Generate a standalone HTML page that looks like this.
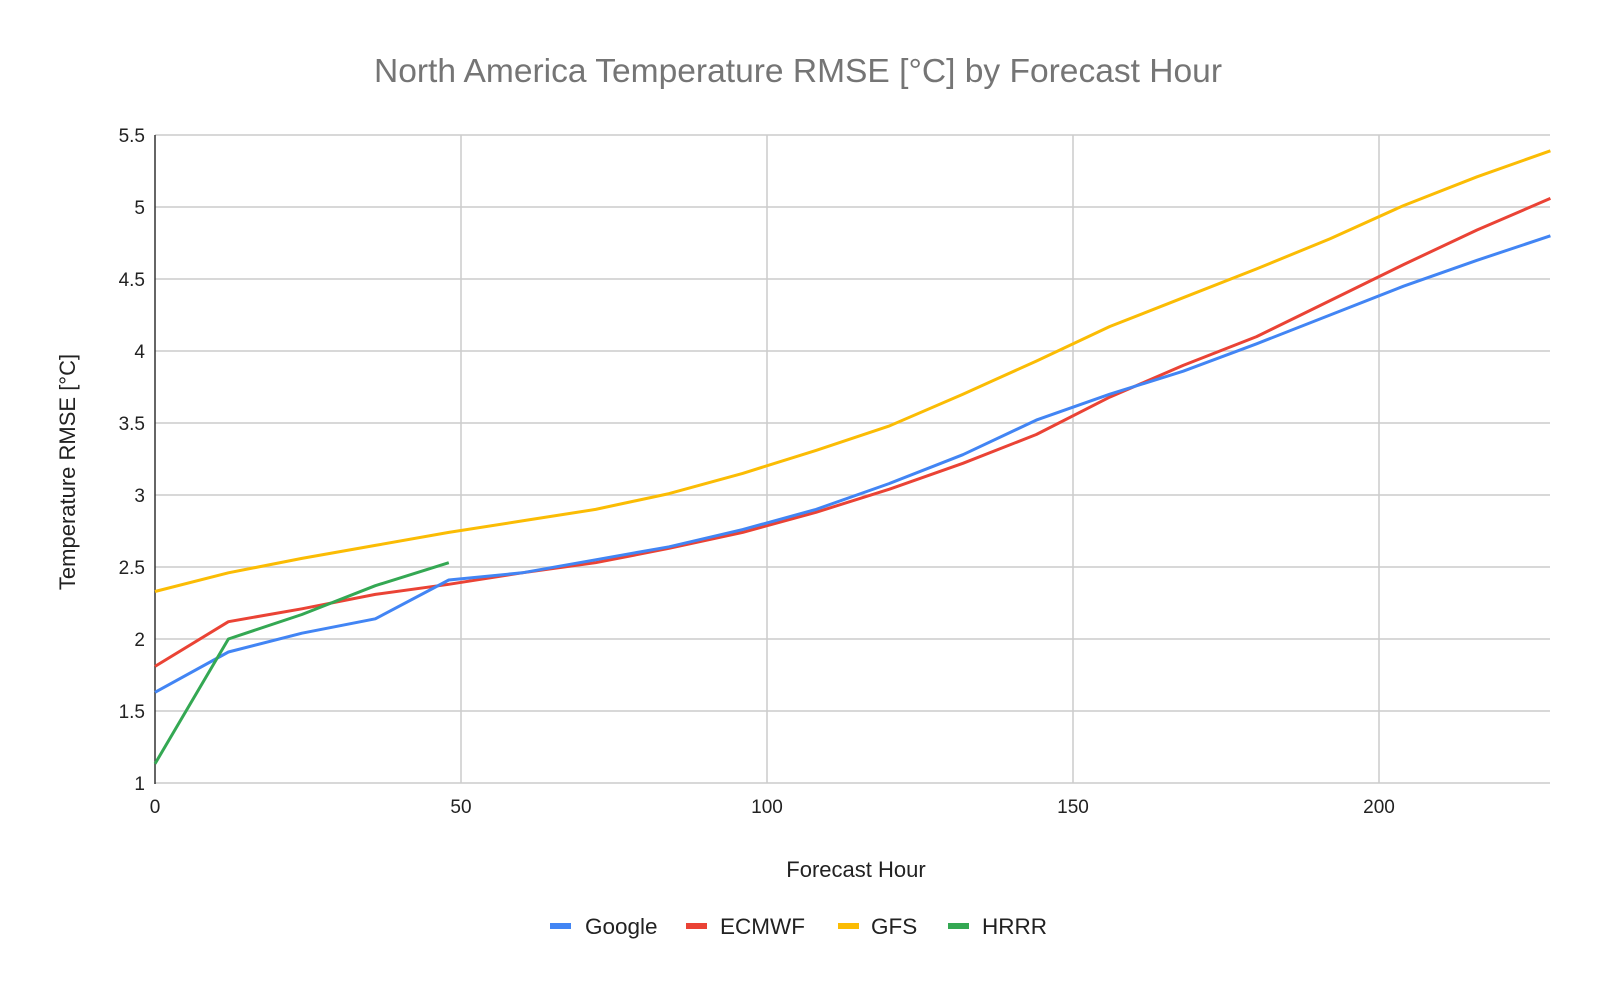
<!DOCTYPE html>
<html><head><meta charset="utf-8"><style>html,body{margin:0;padding:0;background:#fff}svg{display:block}</style></head>
<body>
<svg width="1600" height="989" viewBox="0 0 1600 989" xmlns="http://www.w3.org/2000/svg" font-family="Liberation Sans, Arial, sans-serif">
<rect width="1600" height="989" fill="#fff"/>
<text x="798" y="82" font-size="33" fill="#757575" text-anchor="middle" textLength="848" lengthAdjust="spacingAndGlyphs">North America Temperature RMSE [°C] by Forecast Hour</text>
<g stroke="#cccccc" stroke-width="1.5">
<line x1="155" y1="135" x2="1550" y2="135"/>
<line x1="155" y1="207" x2="1550" y2="207"/>
<line x1="155" y1="279" x2="1550" y2="279"/>
<line x1="155" y1="351" x2="1550" y2="351"/>
<line x1="155" y1="423" x2="1550" y2="423"/>
<line x1="155" y1="495" x2="1550" y2="495"/>
<line x1="155" y1="567" x2="1550" y2="567"/>
<line x1="155" y1="639" x2="1550" y2="639"/>
<line x1="155" y1="711" x2="1550" y2="711"/>
<line x1="155" y1="783" x2="1550" y2="783"/>
<line x1="461" y1="135" x2="461" y2="783"/>
<line x1="767" y1="135" x2="767" y2="783"/>
<line x1="1073" y1="135" x2="1073" y2="783"/>
<line x1="1379" y1="135" x2="1379" y2="783"/>
</g>
<line x1="155" y1="135" x2="155" y2="784" stroke="#333" stroke-width="1.5"/>
<g font-size="19" fill="#222" text-anchor="end">
<text x="145" y="142">5.5</text><text x="145" y="214">5</text><text x="145" y="286">4.5</text>
<text x="145" y="358">4</text><text x="145" y="430">3.5</text><text x="145" y="502">3</text>
<text x="145" y="574">2.5</text><text x="145" y="646">2</text><text x="145" y="718">1.5</text>
<text x="145" y="790">1</text>
</g>
<g font-size="19" fill="#222" text-anchor="middle">
<text x="155" y="813">0</text><text x="461" y="813">50</text><text x="767" y="813">100</text>
<text x="1073" y="813">150</text><text x="1379" y="813">200</text>
</g>
<text x="856" y="877" font-size="22" fill="#222" text-anchor="middle">Forecast Hour</text>
<text transform="translate(75,472) rotate(-90)" font-size="22" fill="#222" text-anchor="middle">Temperature RMSE [°C]</text>
<g fill="none" stroke-width="3" stroke-linejoin="round">
<polyline stroke="#FBBC04" points="155.0,591.5 228.4,572.8 301.9,558.4 375.3,545.4 448.8,532.4 522.2,520.9 595.6,509.4 669.1,493.6 742.6,473.4 816.0,450.4 889.4,425.9 962.9,394.2 1036.3,361.1 1109.8,326.5 1183.2,297.7 1256.6,268.9 1330.1,238.7 1403.5,205.6 1477.0,176.8 1550.4,150.8"/>
<polyline stroke="#EA4335" points="155.0,666.4 228.4,621.7 301.9,608.8 375.3,594.4 448.8,584.3 522.2,572.8 595.6,562.7 669.1,548.3 742.6,532.4 816.0,512.3 889.4,489.2 962.9,463.3 1036.3,434.5 1109.8,397.1 1183.2,365.4 1256.6,336.6 1330.1,300.6 1403.5,264.6 1477.0,230.0 1550.4,198.4"/>
<polyline stroke="#4285F4" points="155.0,692.3 228.4,652.0 301.9,633.2 375.3,618.8 448.8,580.0 522.2,572.8 595.6,559.8 669.1,546.8 742.6,529.6 816.0,509.4 889.4,483.5 962.9,454.7 1036.3,420.1 1109.8,394.2 1183.2,371.2 1256.6,343.8 1330.1,315.0 1403.5,286.2 1477.0,260.3 1550.4,235.8"/>
<polyline stroke="#34A853" points="155.0,763.8 228.4,639.0 301.9,614.5 375.3,585.7 448.8,562.7"/>
</g>
<g font-size="22.5" fill="#222">
<rect x="550" y="923" width="21" height="6" fill="#4285F4"/><text x="585" y="934">Google</text>
<rect x="686" y="923" width="21" height="6" fill="#EA4335"/><text x="720" y="934">ECMWF</text>
<rect x="838" y="923" width="21" height="6" fill="#FBBC04"/><text x="871" y="934">GFS</text>
<rect x="948" y="923" width="21" height="6" fill="#34A853"/><text x="982" y="934">HRRR</text>
</g>
</svg>
</body></html>
